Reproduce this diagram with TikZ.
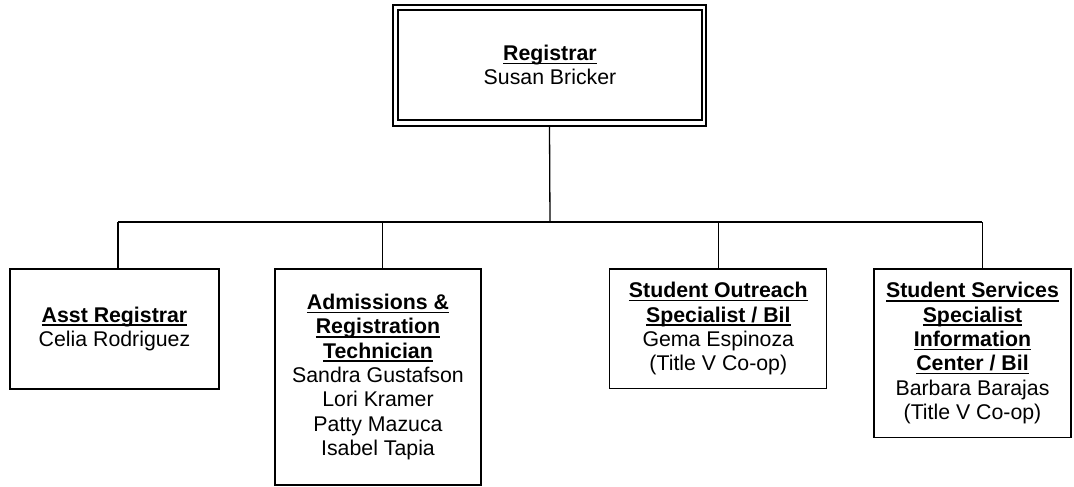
\documentclass[tikz,border=0pt]{standalone}
\usepackage{fontspec}
\setmainfont{Liberation Sans}
\newcommand{\ulb}[1]{\setbox0=\hbox{\bfseries #1}\rlap{\rule[-3.6pt]{\wd0}{1.5pt}}\box0}
\tikzset{
  orgbox/.style={draw=black, line width=1.3pt, rectangle, inner sep=0pt, align=center,
    font={\fontsize{21.3}{24.3}\selectfont}},
  conn/.style={draw=black, line width=1.3pt},
}
\begin{document}
\begin{tikzpicture}[x=1pt,y=-1pt]
\useasboundingbox (0,0) rectangle (1074,487);
% top box (double border)
\node[draw=black, line width=1.2pt, minimum width=313pt, minimum height=121pt, inner sep=0pt] (topouter) at (549.5,65.5) {};
\node[orgbox, line width=2pt, minimum width=304pt, minimum height=110pt] (top) at (550,65)
  {\ulb{Registrar}\\Susan Bricker};
% subordinate boxes
\node[orgbox, minimum width=209pt, minimum height=120pt] (b1) at (114.5,329)
  {\ulb{Asst Registrar}\\Celia Rodriguez};
\node[orgbox, minimum width=206pt, minimum height=216pt] (b2) at (378,377)
  {\ulb{Admissions \&}\\\ulb{Registration}\\\ulb{Technician}\\Sandra Gustafson\\Lori Kramer\\Patty Mazuca\\Isabel Tapia};
\node[orgbox, minimum width=217pt, minimum height=119.5pt] (b3) at (718.3,328.7)
  {\ulb{Student Outreach}\\\ulb{Specialist / Bil}\\Gema Espinoza\\(Title V Co-op)};
\node[orgbox, minimum width=197pt, minimum height=168.5pt] (b4) at (972.5,353.2)
  {\ulb{Student Services}\\\ulb{Specialist}\\\ulb{Information}\\\ulb{Center / Bil}\\Barbara Barajas\\(Title V Co-op)};
% connectors
\coordinate (bus) at (550,222);
\coordinate (d1) at (118,222);
\coordinate (d2) at (382.5,222);
\coordinate (d3) at (718.3,222);
\coordinate (d4) at (982.3,222);
\draw[conn] (topouter.south) -- (bus);
\draw[conn] (d1) -- (d4);
\draw[conn] (d1) -- (d1 |- b1.north);
\draw[conn] (d2) -- (d2 |- b2.north);
\draw[conn] (d3) -- (d3 |- b3.north);
\draw[conn] (d4) -- (d4 |- b4.north);
\end{tikzpicture}
\end{document}
